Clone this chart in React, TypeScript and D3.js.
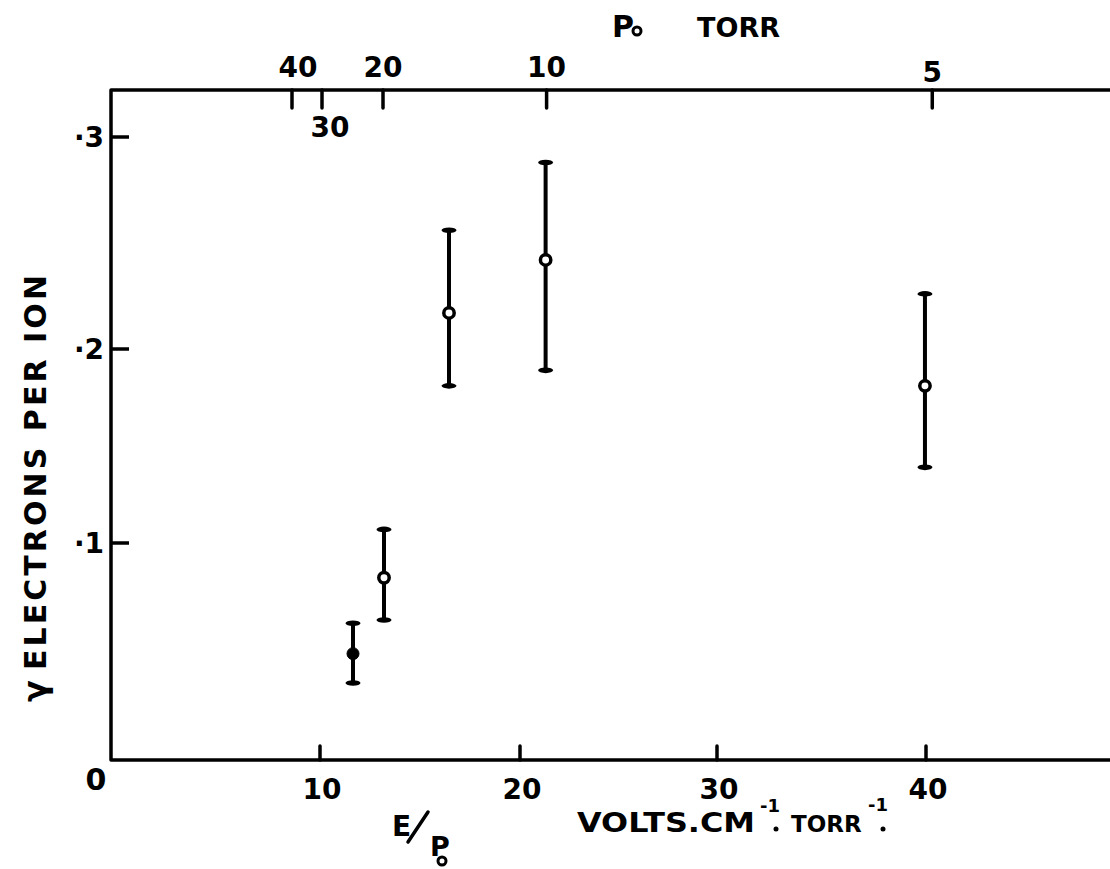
import React from "react";
import * as d3 from "d3";

// E/p0 (volts cm^-1 torr^-1) and gamma (electrons per ion)
const eOverP = [11.65, 13.2, 16.45, 21.3, 39.95];
const gamma = [0.049, 0.084, 0.217, 0.242, 0.181];
const gammaHigh = [0.063, 0.107, 0.256, 0.288, 0.226];
const gammaLow = [0.0355, 0.0645, 0.181, 0.189, 0.139];
const filledPoint = [true, false, false, false, false];

const xTicks = [10, 20, 30, 40];
const yTicks = [0.1, 0.2, 0.3];
const yTickLabels = ["·1", "·2", "·3"];

// top axis: pressure p0 (torr) at its E/p0 position
const p0Labels = ["40", "30", "20", "10", "5"];
const p0AtE = [8.66, 10.1, 13.15, 21.35, 40.3];
const p0Below = [false, true, false, false, false];

const W = 1110;
const H = 869;
const FONT = "'DejaVu Sans', 'Liberation Sans', sans-serif";

export default function App() {
  const x = d3.scaleLinear().domain([0, 10, 20, 30, 40]).range([111, 320, 520, 717, 926]);
  const y = d3.scaleLinear().domain([0, 0.1, 0.2, 0.3]).range([760, 543, 349, 137]);
  const x0 = x(0);
  const xEnd = W;
  const yTop = 90;
  const yBot = y(0);
  const sw = 3.5;

  return (
    <svg
      width={W}
      height={H}
      viewBox={`0 0 ${W} ${H}`}
      style={{ position: "absolute", left: 0, top: 0, background: "#fff" }}
      fontFamily={FONT}
    >
      <rect width={W} height={H} fill="#fff" />
      {/* frame */}
      <path
        d={`M${xEnd},${yTop} L${x0},${yTop} L${x0},${yBot} L${xEnd},${yBot}`}
        fill="none"
        stroke="#000"
        strokeWidth={sw}
        strokeLinejoin="round"
      />
      {/* y ticks */}
      {yTicks.map((t, i) => (
        <g key={"yt" + i}>
          <line x1={x0} x2={x0 + 18} y1={y(t)} y2={y(t)} stroke="#000" strokeWidth={sw} />
          <text
            x={x0 - 7}
            y={y(t)}
            textAnchor="end"
            dominantBaseline="central"
            fontSize={28}
            fontWeight="bold"
          >
            {yTickLabels[i]}
          </text>
        </g>
      ))}
      {/* x ticks */}
      {xTicks.map((t) => (
        <g key={"xt" + t}>
          <line x1={x(t)} x2={x(t)} y1={yBot} y2={yBot - 14} stroke="#000" strokeWidth={sw} strokeLinecap="round" />
          <text x={x(t) + 2} y={yBot + 29} textAnchor="middle" dominantBaseline="central" fontSize={28} fontWeight="bold">
            {t}
          </text>
        </g>
      ))}
      <text x={x0 - 15} y={yBot + 19} textAnchor="middle" dominantBaseline="central" fontSize={30} fontWeight="bold">
        0
      </text>
      {/* top p0 ticks */}
      {p0AtE.map((e, i) => (
        <g key={"pt" + i}>
          <line x1={x(e)} x2={x(e)} y1={yTop} y2={yTop + 18} stroke="#000" strokeWidth={sw} strokeLinecap="round" />
          <text
            x={x(e) + (p0Below[i] ? 8 : i === 0 ? 6 : 0)}
            y={p0Below[i] ? yTop + 37 : i === 4 ? yTop - 18 : yTop - 23}
            textAnchor="middle"
            dominantBaseline="central"
            fontSize={28}
            fontWeight="bold"
          >
            {p0Labels[i]}
          </text>
        </g>
      ))}
      {/* top title */}
      <text x={612} y={37} fontSize={30} fontWeight="bold">
        P
      </text>
      <circle cx={637} cy={31} r={4} fill="none" stroke="#000" strokeWidth={3} />
      <text x={697} y={37} fontSize={26} fontWeight="bold" textLength={83} lengthAdjust="spacingAndGlyphs">
        TORR
      </text>

      {/* error bars and points */}
      {eOverP.map((e, i) => {
        const cx = x(e);
        const yh = y(gammaHigh[i]);
        const yl = y(gammaLow[i]);
        const yc = y(gamma[i]);
        return (
          <g key={"pt" + i}>
            <line x1={cx} x2={cx} y1={yh} y2={yl} stroke="#000" strokeWidth={4} />
            <ellipse cx={cx} cy={yh} rx={7.5} ry={2.8} fill="#000" />
            <ellipse cx={cx} cy={yl} rx={7.5} ry={2.8} fill="#000" />
            <circle
              cx={cx}
              cy={yc}
              r={filledPoint[i] ? 6 : 5.2}
              fill={filledPoint[i] ? "#000" : "#fff"}
              stroke="#000"
              strokeWidth={filledPoint[i] ? 1 : 3.5}
            />
          </g>
        );
      })}

      {/* x axis title */}
      <text x={392} y={836} fontSize={28} fontWeight="bold">
        E
      </text>
      <line x1={408} y1={842} x2={428} y2={812} stroke="#000" strokeWidth={3.5} strokeLinecap="round" />
      <text x={430} y={856} fontSize={27} fontWeight="bold">
        P
      </text>
      <circle cx={442} cy={861} r={4} fill="none" stroke="#000" strokeWidth={3} />
      <text x={577} y={832} fontSize={26} fontWeight="bold" textLength={178} lengthAdjust="spacingAndGlyphs">
        VOLTS.CM
      </text>
      <text x={760} y={812} fontSize={18} fontWeight="bold">
        -1
      </text>
      <circle cx={776} cy={829} r={2.5} fill="#000" />
      <text x={791} y={832} fontSize={23} fontWeight="bold">
        TORR
      </text>
      <text x={868} y={811} fontSize={18} fontWeight="bold">
        -1
      </text>
      <circle cx={883} cy={829} r={2.5} fill="#000" />

      {/* y axis title */}
      <g transform="translate(46,0)">
        <text transform="rotate(-90)" x={-702} y={0} fontSize={32} fontWeight="bold">
          γ
        </text>
        <text
          transform="rotate(-90)"
          x={-670}
          y={0}
          fontSize={30}
          fontWeight="bold"
          textLength={395}
          lengthAdjust="spacing"
        >
          ELECTRONS PER ION
        </text>
      </g>
    </svg>
  );
}
